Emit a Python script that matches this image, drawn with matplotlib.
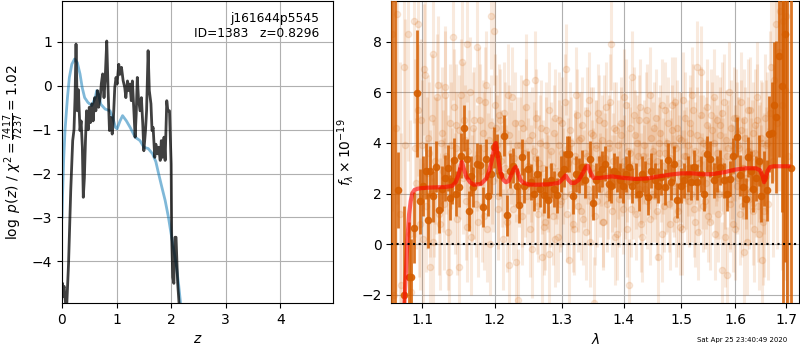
import numpy as np
import matplotlib
matplotlib.use("Agg")
import matplotlib.pyplot as plt
from matplotlib.ticker import NullLocator, FixedLocator, FixedFormatter

# ---------------- left panel: log p(z) ----------------
z_pz = [0.00, 0.01, 0.02, 0.03, 0.04, 0.05, 0.06, 0.08, 0.12, 0.16,
        0.196, 0.22, 0.239, 0.257, 0.28, 0.30, 0.33, 0.35, 0.373, 0.39,
        0.41, 0.43, 0.45, 0.48, 0.50, 0.52, 0.55, 0.57, 0.60, 0.62,
        0.65, 0.67, 0.70, 0.72, 0.745, 0.77, 0.79, 0.82, 0.845, 0.87,
        0.895, 0.92, 0.94, 0.967, 0.99, 1.01, 1.04, 1.06, 1.09, 1.12,
        1.15, 1.17, 1.20, 1.22, 1.245, 1.27, 1.29, 1.32, 1.34, 1.36,
        1.38, 1.40, 1.43, 1.455, 1.48, 1.50, 1.53, 1.55, 1.578, 1.60,
        1.63, 1.65, 1.67, 1.70, 1.72, 1.75, 1.77, 1.80, 1.82, 1.84,
        1.87, 1.89, 1.92, 1.94, 1.97, 2.00, 2.01, 2.03, 2.05, 2.07,
        2.09, 2.12, 2.15, 2.20]
logp = [-4.6, -4.5, -4.8, -4.6, -4.57, -4.75, -4.87, -5.2, -4.05, -2.39,
        -1.25, -1.0, -0.27, 0.95, -0.57, -0.09, -1.02, -0.8, -1.4, -2.54,
        -2.1, -1.25, -0.57, -1.0, -0.49, -0.84, -0.41, -0.8, -0.27, -0.57,
        -0.11, -0.49, -0.27, 0.04, 0.27, -0.27, 0.12, 1.02, -0.11, -1.02,
        -0.72, -1.1, -0.8, -0.04, 0.19, 0.04, 0.49, 0.26, 0.42, 0.12,
        -0.04, -0.27, 0.11, -0.11, 0.04, -0.34, 0.11, -0.64, -1.17, -0.64,
        0.19, -0.27, -0.57, -0.27, -0.87, -1.48, -1.02, -0.57, 0.80, -0.11,
        -0.41, -1.02, -0.95, -1.63, -1.33, -1.55, -1.4, -1.7, -1.25, -1.63,
        -1.17, -1.7, -0.34, -0.57, -0.57, -1.78, -3.45, -4.36, -4.5, -3.45,
        -3.45, -4.5, -5.04, -6.5]

z_prior = [0.0, 0.01, 0.03, 0.055, 0.08, 0.10, 0.135, 0.18, 0.23, 0.28,
           0.33, 0.37, 0.415, 0.475, 0.545, 0.61, 0.636, 0.67, 0.71, 0.79,
           0.88, 0.93, 0.98, 1.01, 1.064, 1.11, 1.18, 1.25, 1.34, 1.43,
           1.50, 1.58, 1.66, 1.72, 1.77, 1.83, 1.89, 1.95, 1.99, 2.04,
           2.09, 2.135, 2.18, 2.25]
logp_prior = [-3.0, -2.5, -1.7, -1.02, -0.6, -0.27, 0.19, 0.49, 0.61, 0.53,
              0.27, -0.04, -0.27, -0.38, -0.45, -0.27, -0.11, -0.19, -0.42, -0.53,
              -0.57, -0.72, -0.95, -0.98, -0.80, -0.68, -0.80, -0.95, -1.17, -1.25,
              -1.40, -1.43, -1.55, -1.73, -2.0, -2.31, -2.61, -2.99, -3.30, -3.67,
              -4.05, -4.5, -5.04, -5.8]

z_ticks = [0, 1, 2, 3, 4]
logp_ticks = [-4, -3, -2, -1, 0, 1]

# ---------------- right panel: spectrum ----------------
# unbinned pixels, first exposure
faint_wave = [
    1.061, 1.063, 1.066, 1.068, 1.071, 1.073, 1.076, 1.078, 1.081, 1.084, 1.086, 1.089,
    1.091, 1.094, 1.096, 1.099, 1.101, 1.104, 1.106, 1.109, 1.111, 1.114, 1.116, 1.119,
    1.121, 1.124, 1.126, 1.129, 1.131, 1.134, 1.136, 1.139, 1.141, 1.144, 1.146, 1.149,
    1.151, 1.154, 1.156, 1.159, 1.161, 1.164, 1.166, 1.169, 1.171, 1.174, 1.176, 1.179,
    1.181, 1.184, 1.186, 1.189, 1.191, 1.194, 1.196, 1.199, 1.201, 1.204, 1.206, 1.209,
    1.211, 1.214, 1.216, 1.219, 1.221, 1.224, 1.226, 1.229, 1.231, 1.234, 1.236, 1.239,
    1.241, 1.244, 1.246, 1.249, 1.251, 1.254, 1.256, 1.259, 1.261, 1.264, 1.266, 1.269,
    1.271, 1.274, 1.276, 1.279, 1.281, 1.284, 1.286, 1.289, 1.291, 1.294, 1.296, 1.299,
    1.301, 1.304, 1.306, 1.309, 1.311, 1.314, 1.316, 1.319, 1.321, 1.324, 1.326, 1.329,
    1.331, 1.334, 1.336, 1.339, 1.341, 1.344, 1.346, 1.349, 1.351, 1.354, 1.356, 1.359,
    1.361, 1.364, 1.366, 1.369, 1.371, 1.374, 1.376, 1.379, 1.381, 1.384, 1.386, 1.389,
    1.391, 1.394, 1.396, 1.399, 1.401, 1.404, 1.406, 1.409, 1.411, 1.414, 1.416, 1.419,
    1.421, 1.424, 1.426, 1.429, 1.431, 1.434, 1.436, 1.439, 1.441, 1.444, 1.446, 1.449,
    1.451, 1.454, 1.456, 1.459, 1.461, 1.464, 1.466, 1.469, 1.471, 1.474, 1.476, 1.479,
    1.481, 1.484, 1.486, 1.489, 1.491, 1.494, 1.496, 1.499, 1.501, 1.504, 1.506, 1.509,
    1.511, 1.514, 1.516, 1.519, 1.521, 1.524, 1.526, 1.529, 1.531, 1.534, 1.536, 1.539,
    1.541, 1.544, 1.546, 1.549, 1.551, 1.554, 1.556, 1.559, 1.561, 1.564, 1.566, 1.569,
    1.571, 1.574, 1.576, 1.579, 1.581, 1.584, 1.586, 1.589, 1.591, 1.594, 1.596, 1.599,
    1.601, 1.604, 1.606, 1.609, 1.611, 1.614, 1.616, 1.619, 1.621, 1.624, 1.626, 1.629,
    1.631, 1.634, 1.636, 1.639, 1.641, 1.644, 1.646, 1.649, 1.651, 1.654, 1.656, 1.659,
    1.661, 1.664, 1.667, 1.670, 1.673, 1.676, 1.679, 1.682, 1.685, 1.688, 1.691, 1.694,
    1.697, 1.700, 1.703]
faint_flux = [
    8.3, -2.0, 4.6, 9.1, 1.2, -1.6, 7.0, 3.9, 8.3, 0.4, -1.9, 8.8,
    3.8, 8.7, 1.9, 4.9, 0.2, 6.7, 2.8, 3.6, -0.9, 7.5, 2.2, 3.1,
    6.3, 0.8, 4.4, 1.6, 5.9, 2.6, -1.1, 3.9, 8.2, 2.0, 4.7, -0.9,
    3.4, 7.2, 4.9, 1.7, 7.9, 3.0, 0.3, 4.6, 2.4, 7.8, 0.9, 4.9,
    1.5, 3.8, 5.6, 0.6, 4.1, 9.0, 2.9, 8.4, 4.6, 1.9, 5.1, 3.3,
    0.2, 4.4, 2.7, 5.9, -0.8, 3.6, 1.4, 4.8, 2.9, -2.2, 3.9, 1.8,
    4.6, 2.2, 6.4, 3.1, 0.6, 4.3, 2.0, 6.5, 3.4, 1.2, 4.0, -0.5,
    3.0, 0.9, 4.5, 2.4, -0.4, 3.7, 1.1, 5.0, 2.6, 0.3, 3.9, 1.7,
    4.8, 1.9, 6.9, 3.2, -0.6, 4.0, 2.4, 0.6, 3.5, 5.1, 1.5, 3.0,
    4.2, 1.0, 3.6, 5.2, 2.2, 0.1, 4.4, 2.8, -2.3, 3.9, 1.7, 4.9,
    2.6, 4.1, 0.9, 3.4, 5.4, 2.0, 3.8, 7.9, 1.3, 4.6, 2.5, 0.4,
    3.9, 2.3, 4.8, 1.4, 3.3, 5.5, 2.7, -1.6, 3.6, 6.6, 2.0, 4.3,
    1.2, 3.5, 4.9, 2.6, 0.3, 3.9, 2.2, 5.3, 3.1, 1.0, 4.2, 2.8,
    4.6, 1.9, 3.3, -0.5, 4.0, 2.7, 5.5, 1.5, 3.6, 2.3, 4.8, 0.8,
    3.2, 4.5, 2.1, 5.6, 3.8, 1.3, 4.2, 2.7, 0.6, 3.5, 5.0, 2.4,
    3.9, 1.7, 4.4, 2.9, 5.3, 0.9, 3.4, 7.0, 2.2, 4.1, 6.8, 1.5,
    3.6, 2.4, 4.7, 1.1, 3.0, 5.1, 2.6, 4.0, 0.4, 3.3, 4.9, 2.0,
    4.3, -1.0, 3.1, 5.6, 2.5, -1.2, 3.8, 1.6, 4.6, 2.9, 0.8, 3.6,
    5.0, 2.3, 3.9, 1.2, 4.5, 3.0, -0.3, 4.2, 2.6, 5.3, 1.8, 3.4,
    2.1, 4.4, 0.6, 3.6, 4.9, 1.5, 3.2, 2.4, 4.0, 0.9, 1.3, 2.7,
    4.0, 1.6, 5.2, 7.0, 3.3, 6.5, 8.7, 4.8, 7.6, 9.2, 5.5, 8.8,
    6.1, 9.0, 3.5]
faint_err = [
    7.0, 8.0, 6.5, 7.5, 6.0, 6.0, 5.5, 5.0, 5.0, 4.5, 4.0, 4.0,
    3.5, 3.5, 3.2, 3.2, 3.0, 3.0, 3.0, 2.8, 2.8, 2.8, 2.7, 2.7,
    2.7, 2.6, 2.6, 2.6, 2.5, 2.5, 2.5, 2.5, 2.5, 2.4, 2.4, 2.4,
    2.4, 2.4, 2.3, 2.3, 2.3, 2.3, 2.3, 2.2, 2.2, 2.2, 2.2, 2.2,
    2.2, 2.2, 2.2, 2.1, 2.1, 2.1, 2.1, 2.1, 2.1, 2.1, 2.0, 2.0,
    2.0, 2.0, 2.0, 2.0, 2.0, 2.0, 2.0, 2.0, 2.0, 2.0, 1.9, 1.9,
    1.9, 1.9, 1.9, 1.9, 1.9, 1.9, 1.9, 1.9, 1.9, 1.9, 1.9, 1.9,
    1.9, 1.9, 1.9, 1.9, 1.9, 1.9, 1.9, 1.9, 1.8, 1.8, 1.8, 1.8,
    1.8, 1.8, 1.8, 1.8, 1.8, 1.8, 1.8, 1.8, 1.8, 1.8, 1.8, 1.8,
    1.8, 1.8, 1.8, 1.8, 1.8, 1.8, 1.8, 1.8, 1.8, 1.8, 1.8, 1.8,
    1.8, 1.8, 1.8, 1.8, 1.8, 1.8, 1.8, 1.8, 1.8, 1.8, 1.8, 1.8,
    1.8, 1.8, 1.8, 1.8, 1.8, 1.8, 1.8, 1.8, 1.8, 1.8, 1.8, 1.8,
    1.8, 1.8, 1.8, 1.8, 1.8, 1.8, 1.8, 1.8, 1.8, 1.8, 1.8, 1.8,
    1.8, 1.8, 1.8, 1.8, 1.8, 1.8, 1.8, 1.8, 1.8, 1.8, 1.8, 1.8,
    1.8, 1.8, 1.8, 1.8, 1.8, 1.8, 1.8, 1.8, 1.8, 1.8, 1.8, 1.8,
    1.8, 1.8, 1.8, 1.8, 1.8, 1.8, 1.8, 1.8, 1.8, 1.8, 1.8, 1.8,
    1.8, 1.8, 1.8, 1.8, 1.8, 1.8, 1.8, 1.8, 1.8, 1.8, 1.8, 1.8,
    1.9, 1.9, 1.9, 1.9, 1.9, 1.9, 1.9, 1.9, 1.9, 1.9, 1.9, 1.9,
    1.9, 1.9, 1.9, 2.0, 2.0, 2.0, 2.0, 2.0, 2.0, 2.0, 2.0, 2.0,
    2.0, 2.0, 2.1, 2.1, 2.2, 2.2, 2.3, 2.3, 2.4, 2.5, 2.6, 2.7,
    2.8, 3.0, 3.2, 3.5, 3.8, 4.0, 4.5, 5.0, 5.5, 6.0, 6.5, 7.0,
    7.5, 8.0, 8.0]

# unbinned pixels, second exposure
faint2_wave = [
    1.0925, 1.0950, 1.0975, 1.1000, 1.1025, 1.1050, 1.1075, 1.1100, 1.1125, 1.1150, 1.1175, 1.1200,
    1.1225, 1.1250, 1.1275, 1.1300, 1.1325, 1.1350, 1.1375, 1.1400, 1.1425, 1.1450, 1.1475, 1.1500,
    1.1525, 1.1550, 1.1575, 1.1600, 1.1625, 1.1650, 1.1675, 1.1700, 1.1725, 1.1750, 1.1775, 1.1800,
    1.1825, 1.1850, 1.1875, 1.1900, 1.1925, 1.1950, 1.1975, 1.2000, 1.2025, 1.2050, 1.2075, 1.2100,
    1.2125, 1.2150, 1.2175, 1.2200, 1.2225, 1.2250, 1.2275, 1.2300, 1.2325, 1.2350, 1.2375, 1.2400,
    1.2425, 1.2450, 1.2475, 1.2500, 1.2525, 1.2550, 1.2575, 1.2600, 1.2625, 1.2650, 1.2675, 1.2700,
    1.2725, 1.2750, 1.2775, 1.2800, 1.2825, 1.2850, 1.2875, 1.2900, 1.2925, 1.2950, 1.2975, 1.3000,
    1.3025, 1.3050, 1.3075, 1.3100, 1.3125, 1.3150, 1.3175, 1.3200, 1.3225, 1.3250, 1.3275, 1.3300,
    1.3325, 1.3350, 1.3375, 1.3400, 1.3425, 1.3450, 1.3475, 1.3500, 1.3525, 1.3550, 1.3575, 1.3600,
    1.3625, 1.3650, 1.3675, 1.3700, 1.3725, 1.3750, 1.3775, 1.3800, 1.3825, 1.3850, 1.3875, 1.3900,
    1.3925, 1.3950, 1.3975, 1.4000, 1.4025, 1.4050, 1.4075, 1.4100, 1.4125, 1.4150, 1.4175, 1.4200,
    1.4225, 1.4250, 1.4275, 1.4300, 1.4325, 1.4350, 1.4375, 1.4400, 1.4425, 1.4450, 1.4475, 1.4500,
    1.4525, 1.4550, 1.4575, 1.4600, 1.4625, 1.4650, 1.4675, 1.4700, 1.4725, 1.4750, 1.4775, 1.4800,
    1.4825, 1.4850, 1.4875, 1.4900, 1.4925, 1.4950, 1.4975, 1.5000, 1.5025, 1.5050, 1.5075, 1.5100,
    1.5125, 1.5150, 1.5175, 1.5200, 1.5225, 1.5250, 1.5275, 1.5300, 1.5325, 1.5350, 1.5375, 1.5400,
    1.5425, 1.5450, 1.5475, 1.5500, 1.5525, 1.5550, 1.5575, 1.5600, 1.5625, 1.5650, 1.5675, 1.5700,
    1.5725, 1.5750, 1.5775, 1.5800, 1.5825, 1.5850, 1.5875, 1.5900, 1.5925, 1.5950, 1.5975, 1.6000,
    1.6025, 1.6050, 1.6075, 1.6100, 1.6125, 1.6150, 1.6175, 1.6200, 1.6225, 1.6250, 1.6275, 1.6300,
    1.6325, 1.6350, 1.6375, 1.6400, 1.6425, 1.6450, 1.6475, 1.6500, 1.6525, 1.6550, 1.6575, 1.6600]
faint2_flux = [
    2.4, 5.3, 0.8, 3.9, 6.9, 1.5, 4.2, 2.0, 5.0, 0.1, 3.3, 5.8,
    1.2, 4.0, 2.9, 6.2, 3.5, 0.5, 4.8, 2.3, 5.4, 3.8, 1.0, 4.5,
    5.9, 2.6, 4.1, 0.7, 3.7, 6.0, 2.2, 4.9, 1.6, 3.4, 5.7, 2.9,
    4.4, 1.1, 6.3, 3.2, 0.0, 4.7, 2.5, 5.5, 3.9, 1.4, 4.9, 2.7,
    5.2, 3.0, 0.9, 4.3, 2.1, 5.8, 3.4, -0.7, 3.9, 2.6, 4.8, 1.1,
    3.6, 5.4, 1.9, 4.1, 2.8, -0.2, 3.7, 5.0, 1.5, 3.2, 4.6, 2.3,
    0.7, 3.9, 2.5, 5.3, 1.8, 3.1, 4.4, 0.2, 2.9, 4.9, 1.6, 3.6,
    2.7, 5.6, 1.2, 3.8, 4.5, 2.0, 0.8, 3.3, 5.9, 2.4, 4.1, 1.3,
    4.7, 2.6, 0.5, 3.5, 5.7, 1.9, 3.0, 4.3, 1.1, 3.8, 5.2, 2.2,
    3.4, 0.9, 4.8, 2.7, 1.6, 4.0, 5.6, 2.4, 3.3, 0.3, 4.5, 2.9,
    1.8, 4.3, 3.0, 5.8, 2.1, 0.6, 3.7, 4.6, 1.4, 3.1, 5.1, 2.5,
    4.0, 2.2, 5.4, 0.8, 3.5, 2.8, 4.9, 1.7, 3.3, 5.9, 2.0, 3.7,
    2.9, 5.0, 1.3, 3.6, 4.4, 0.4, 3.1, 5.3, 2.3, 4.0, 1.6, 3.4,
    5.5, 2.4, 3.9, 1.0, 4.6, 3.2, 0.7, 4.1, 5.7, 2.6, 3.5, 1.9,
    3.0, 4.8, 2.0, 5.9, 1.4, 3.7, 4.3, 0.5, 3.2, 5.1, 2.5, 4.0,
    1.7, 3.9, 5.4, 2.8, 0.9, 4.5, 3.1, 5.8, 2.1, 3.6, 1.2, 4.7,
    3.3, 5.2, 2.0, 0.3, 4.1, 3.5, 6.0, 1.8, 3.9, 2.7, 5.0, 0.6,
    4.4, 2.6, 3.8, 5.6, 1.5, 3.0, 4.9, 2.2, 0.1, 3.7, 5.3, 2.9,
    3.6, 1.3, 4.7, 2.5, 5.8, 0.4, 3.3, 4.2, -0.6, 2.8, 5.0, 3.9]
faint2_err = [
    2.6, 2.6, 2.6, 2.6, 2.6, 2.6, 2.5, 2.5, 2.5, 2.5, 2.5, 2.5,
    2.4, 2.4, 2.4, 2.4, 2.3, 2.3, 2.3, 2.3, 2.3, 2.2, 2.2, 2.2,
    2.2, 2.2, 2.2, 2.2, 2.2, 2.2, 2.1, 2.1, 2.1, 2.1, 2.1, 2.1,
    2.1, 2.1, 2.1, 2.0, 2.0, 2.0, 2.0, 2.0, 2.0, 2.0, 2.0, 2.0,
    2.0, 2.0, 2.0, 2.0, 2.0, 2.0, 1.9, 1.9, 1.9, 1.9, 1.9, 1.9,
    1.9, 1.9, 1.9, 1.9, 1.9, 1.9, 1.9, 1.9, 1.9, 1.9, 1.9, 1.9,
    1.9, 1.9, 1.9, 1.9, 1.9, 1.9, 1.9, 1.9, 1.9, 1.9, 1.9, 1.9,
    1.9, 1.9, 1.9, 1.9, 1.9, 1.9, 1.9, 1.9, 1.9, 1.9, 1.9, 1.9,
    1.9, 1.9, 1.9, 1.9, 1.9, 1.9, 1.9, 1.9, 1.9, 1.9, 1.9, 1.9,
    1.9, 1.9, 1.9, 1.9, 1.9, 1.9, 1.9, 1.9, 1.9, 1.9, 1.9, 1.9,
    1.9, 1.9, 1.9, 1.9, 1.9, 1.9, 1.9, 1.9, 1.9, 1.9, 1.9, 1.9,
    1.9, 1.9, 1.9, 1.9, 1.9, 1.9, 1.9, 1.9, 1.9, 1.9, 1.9, 1.9,
    1.9, 1.9, 1.9, 1.9, 1.9, 1.9, 1.9, 1.9, 1.9, 1.9, 1.9, 1.9,
    1.9, 1.9, 1.9, 1.9, 1.9, 1.9, 1.9, 1.9, 1.9, 1.9, 1.9, 1.9,
    1.9, 1.9, 1.9, 1.9, 1.9, 1.9, 1.9, 1.9, 1.9, 1.9, 1.9, 1.9,
    1.9, 1.9, 1.9, 1.9, 1.9, 1.9, 1.9, 1.9, 1.9, 1.9, 1.9, 1.9,
    2.0, 2.0, 2.0, 2.0, 2.0, 2.0, 2.0, 2.0, 2.0, 2.0, 2.0, 2.0,
    2.0, 2.0, 2.0, 2.0, 2.0, 2.0, 2.0, 2.1, 2.1, 2.1, 2.1, 2.1,
    2.1, 2.1, 2.2, 2.2, 2.2, 2.2, 2.3, 2.3, 2.4, 2.4, 2.5, 2.6]

bin_wave = [
    1.0606, 1.0647, 1.0690, 1.0766, 1.0830, 1.0860, 1.0890, 1.0930, 1.0970, 1.1010,
    1.1050, 1.1080, 1.1110, 1.1150, 1.1190, 1.1230, 1.1270, 1.1300, 1.1340, 1.1370,
    1.1400, 1.1430, 1.1460, 1.1490, 1.1530, 1.1570, 1.1600, 1.1640, 1.1660, 1.1690,
    1.1740, 1.1790, 1.1830, 1.1870, 1.1900, 1.1940, 1.1990, 1.2030, 1.2080, 1.2130,
    1.2180, 1.2220, 1.2270, 1.2320, 1.2350, 1.2400, 1.2430, 1.2480, 1.2530, 1.2580,
    1.2620, 1.2670, 1.2720, 1.2760, 1.2790, 1.2830, 1.2880, 1.2930, 1.2980, 1.3030,
    1.3080, 1.3120, 1.3170, 1.3220, 1.3270, 1.3320, 1.3370, 1.3440, 1.3490, 1.3540,
    1.3590, 1.3640, 1.3690, 1.3750, 1.3790, 1.3840, 1.3890, 1.3940, 1.3990, 1.4040,
    1.4090, 1.4140, 1.4200, 1.4250, 1.4310, 1.4360, 1.4420, 1.4470, 1.4530, 1.4590,
    1.4640, 1.4700, 1.4760, 1.4820, 1.4870, 1.4930, 1.4990, 1.5050, 1.5110, 1.5170,
    1.5230, 1.5290, 1.5350, 1.5410, 1.5470, 1.5530, 1.5590, 1.5650, 1.5710, 1.5780,
    1.5840, 1.5900, 1.5960, 1.6030, 1.6090, 1.6140, 1.6200, 1.6250, 1.6300, 1.6340,
    1.6400, 1.6450, 1.6500, 1.6550, 1.6610, 1.6660, 1.6710, 1.6760, 1.6800, 1.6860,
    1.6910, 1.6940, 1.6980, 1.7020, 1.7110]
bin_flux = [
    14.0, 12.0, 2.13, -2.0, -1.3, -1.3, 0.66, 5.96, 1.69, 2.3,
    2.9, 0.94, 2.89, 1.9, 3.07, 1.36, 2.2, 2.61, 3.0, 1.84,
    2.5, 3.31, 2.0, 2.26, 3.5, 4.59, 3.37, 1.31, 2.7, 2.26,
    3.18, 3.14, 1.47, 3.35, 1.9, 2.78, 3.83, 3.57, 2.72, 4.29,
    1.14, 2.91, 3.11, 2.32, 1.54, 3.44, 2.32, 2.98, 2.45, 2.0,
    2.78, 2.19, 1.93, 2.4, 1.73, 2.52, 2.19, 1.93, 2.78, 2.98,
    3.57, 3.57, 1.89, 2.78, 2.72, 3.04, 2.52, 3.37, 1.64, 2.52,
    2.78, 2.98, 3.18, 2.39, 2.32, 2.91, 2.78, 2.52, 2.32, 2.78,
    3.04, 2.32, 2.52, 2.0, 2.78, 2.59, 1.86, 2.91, 2.52, 2.32,
    2.65, 2.26, 3.31, 2.45, 3.18, 1.73, 2.32, 2.52, 2.78, 2.45,
    3.04, 2.45, 2.78, 2.0, 3.57, 3.37, 2.52, 2.78, 3.04, 2.52,
    2.0, 2.59, 3.5, 4.23, 2.72, 2.26, 1.8, 3.44, 2.9, 2.19,
    2.6, 3.3, 1.9, 2.6, 2.13, 4.36, 4.4, 5.5, 5.01, 7.44,
    6.26, 14.0, 8.29, 14.0, 3.02]
bin_err = [
    30, 30, 1.5, 3.5, 2.2, 1.5, 1.4, 2.5, 1.3, 1.2,
    1.1, 1.1, 1.0, 1.0, 1.0, 0.9, 0.9, 0.9, 0.9, 0.9,
    0.9, 0.9, 0.9, 0.8, 0.9, 0.9, 0.8, 0.8, 0.8, 0.8,
    0.8, 0.8, 0.8, 0.8, 0.8, 0.8, 0.8, 0.8, 0.8, 0.8,
    0.8, 0.7, 0.7, 0.7, 0.7, 0.7, 0.7, 0.7, 0.7, 0.7,
    0.7, 0.7, 0.7, 0.7, 0.7, 0.7, 0.7, 0.7, 0.7, 0.7,
    0.7, 0.7, 0.7, 0.7, 0.7, 0.7, 0.7, 0.7, 0.7, 0.7,
    0.7, 0.7, 0.7, 0.7, 0.7, 0.7, 0.7, 0.7, 0.7, 0.7,
    0.7, 0.7, 0.7, 0.7, 0.7, 0.7, 0.7, 0.7, 0.7, 0.7,
    0.7, 0.7, 0.7, 0.7, 0.7, 0.7, 0.7, 0.7, 0.7, 0.7,
    0.7, 0.7, 0.7, 0.7, 0.7, 0.7, 0.7, 0.7, 0.7, 0.7,
    0.7, 0.7, 0.7, 0.8, 0.8, 0.8, 0.8, 0.8, 0.8, 0.9,
    0.9, 1.0, 1.0, 1.1, 1.2, 1.5, 2.0, 2.5, 3.0, 4.0,
    5.0, 20, 9, 20, 15]

model_wave = [1.0750, 1.0790, 1.0810, 1.0830, 1.0850, 1.0870, 1.0900, 1.0950, 1.1000, 1.1100,
              1.1200, 1.1300, 1.1400, 1.1450, 1.1490, 1.1520, 1.1535, 1.1560, 1.1600, 1.1650,
              1.1700, 1.1800, 1.1880, 1.1930, 1.1970, 1.2000, 1.2015, 1.2040, 1.2080, 1.2120,
              1.2160, 1.2200, 1.2240, 1.2270, 1.2300, 1.2330, 1.2370, 1.2420, 1.2500, 1.2600,
              1.2800, 1.2950, 1.3020, 1.3060, 1.3100, 1.3150, 1.3200, 1.3270, 1.3340, 1.3380,
              1.3410, 1.3450, 1.3500, 1.3600, 1.3800, 1.4000, 1.4200, 1.4400, 1.4600, 1.4800,
              1.5000, 1.5200, 1.5400, 1.5600, 1.5800, 1.6000, 1.6200, 1.6400, 1.6480, 1.6530,
              1.6560, 1.6590, 1.6630, 1.6680, 1.6750, 1.6900, 1.7050]
model_flux = [-3.5, -1.0, 0.3, 1.2, 1.7, 2.0, 2.15, 2.2, 2.22, 2.24,
              2.25, 2.26, 2.3, 2.45, 2.75, 3.1, 3.25, 3.0, 2.65, 2.45,
              2.35, 2.38, 2.6, 3.0, 3.5, 3.95, 4.0, 3.5, 2.85, 2.55,
              2.45, 2.5, 2.75, 2.95, 3.05, 2.85, 2.55, 2.42, 2.36, 2.35,
              2.37, 2.42, 2.6, 2.72, 2.55, 2.42, 2.42, 2.55, 2.85, 3.05,
              3.1, 2.85, 2.62, 2.62, 2.68, 2.62, 2.58, 2.6, 2.68, 2.75,
              2.8, 2.8, 2.76, 2.78, 2.85, 2.95, 3.0, 3.0, 2.92, 2.7,
              2.45, 2.6, 2.9, 3.05, 3.08, 3.08, 3.08]

wave_ticks = [1.1, 1.2, 1.3, 1.4, 1.5, 1.6, 1.7]
flux_ticks = [-2, 0, 2, 4, 6, 8]

# ---------------- figure ----------------
grism_color = (0.8352941176470589, 0.3686274509803922, 0.0)
prior_color = (0.0, 0.4470588235294118, 0.6980392156862745)

fig = plt.figure(figsize=(8, 3.5), dpi=100)
ax1 = fig.add_axes([0.0775, 0.134, 0.339, 0.863])
ax2 = fig.add_axes([0.489, 0.134, 0.510, 0.863])

ax1.plot(z_prior, logp_prior, color=prior_color, alpha=0.5, lw=2)
ax1.plot(z_pz, logp, color='k', alpha=0.75, lw=2)
ax1.set_xlim(0, 4.97)
ax1.set_ylim(-4.95, 1.93)
ax1.set_xticks(z_ticks)
ax1.set_yticks(logp_ticks)
ax1.grid(True)
ax1.set_axisbelow(True)
ax1.set_xlabel(r'$z$')
ax1.set_ylabel(r'$\log\ p(z)$ / $\chi^2=\frac{7417}{7237}=1.02$')
ax1.text(0.95, 0.965, 'j161644p5545\nID=1383   z=0.8296', transform=ax1.transAxes,
         ha='right', va='top', fontsize=8.8)

for fw, ff, fe in ((faint_wave, faint_flux, faint_err),
                   (faint2_wave, faint2_flux, faint2_err)):
    ax2.errorbar(fw, ff, yerr=fe, fmt='o', color=grism_color,
                 alpha=0.13, ms=4.5, elinewidth=2.2, capsize=0, zorder=1)
ax2.errorbar(bin_wave, bin_flux, yerr=bin_err, fmt='o', color=grism_color,
             alpha=0.85, ms=4.5, elinewidth=2.0, capsize=0, zorder=3)
ax2.plot(model_wave, model_flux, color='r', alpha=0.6, lw=3, zorder=5)
ax2.axhline(0, color='k', ls=':', lw=1.5, zorder=6)

ax2.set_xscale('log')
ax2.set_xlim(1.060, 1.727)
ax2.set_ylim(-2.32, 9.6)
ax2.xaxis.set_major_locator(FixedLocator(wave_ticks))
ax2.xaxis.set_major_formatter(FixedFormatter([f'{w:.1f}' for w in wave_ticks]))
ax2.xaxis.set_minor_locator(NullLocator())
ax2.set_yticks(flux_ticks)
ax2.grid(True)
ax2.set_axisbelow(True)
ax2.set_xlabel(r'$\lambda$')
ax2.set_ylabel(r'$f_\lambda \times 10^{-19}$')

fig.text(0.984, 0.028, 'Sat Apr 25 23:40:49 2020', ha='right', va='center', fontsize=5)

fig.savefig('out.png', dpi=100)
